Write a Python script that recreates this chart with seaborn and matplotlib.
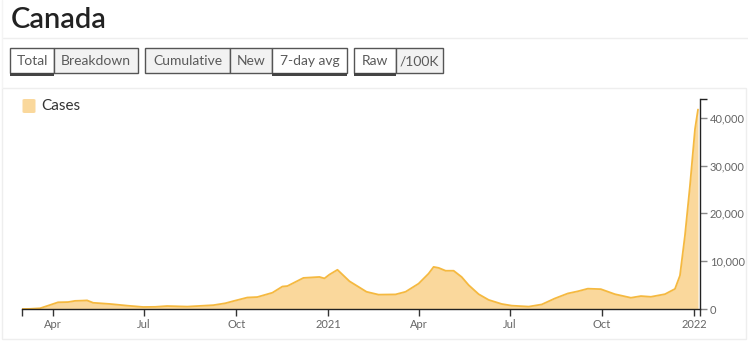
import matplotlib
matplotlib.use("Agg")
import matplotlib.pyplot as plt
import matplotlib.dates as mdates
from matplotlib.patches import Rectangle, FancyBboxPatch
from matplotlib.lines import Line2D
import matplotlib.ticker as mticker
import seaborn as sns
import pandas as pd

# ---- data (7-day avg new cases, Canada) ----
dates = [
    "2020-03-01", "2020-03-09", "2020-03-19", "2020-03-27", "2020-04-06", "2020-04-16",
    "2020-04-23", "2020-04-30", "2020-05-05", "2020-05-11", "2020-05-28", "2020-06-14",
    "2020-06-30", "2020-07-12", "2020-07-24", "2020-08-13", "2020-09-08", "2020-09-20",
    "2020-09-28", "2020-10-12", "2020-10-22", "2020-11-06", "2020-11-16", "2020-11-21",
    "2020-12-07", "2020-12-23", "2020-12-28", "2021-01-02", "2021-01-10", "2021-01-22",
    "2021-02-08", "2021-02-20", "2021-03-09", "2021-03-19", "2021-04-01", "2021-04-11",
    "2021-04-16", "2021-04-21", "2021-04-28", "2021-05-06", "2021-05-14", "2021-05-21",
    "2021-05-31", "2021-06-10", "2021-06-23", "2021-07-03", "2021-07-20", "2021-08-02",
    "2021-08-15", "2021-08-28", "2021-09-07", "2021-09-17", "2021-09-30", "2021-10-14",
    "2021-10-30", "2021-11-09", "2021-11-19", "2021-12-03", "2021-12-13", "2021-12-18",
    "2021-12-23", "2021-12-28", "2022-01-02", "2022-01-05",
]
cases = [
    0, 30, 150, 700, 1400, 1450,
    1700, 1750, 1800, 1300, 1050, 700,
    420, 450, 620, 500, 800, 1200,
    1650, 2400, 2500, 3400, 4700, 4800,
    6500, 6700, 6400, 7200, 8200, 5800,
    3600, 3000, 3050, 3600, 5300, 7400,
    8800, 8600, 8000, 8000, 6700, 5000,
    3100, 1900, 1050, 700, 500, 950,
    2200, 3250, 3700, 4250, 4150, 3100,
    2350, 2700, 2550, 3100, 4200, 7000,
    15400, 25800, 37600, 41700,
]
series_name = "Cases"
title = "Canada"
button_groups = [
    [("Total", True), ("Breakdown", False)],
    [("Cumulative", False), ("New", False), ("7-day avg", True)],
    [("Raw", True), ("/100K", False)],
]
y_ticks = [0, 10000, 20000, 30000, 40000]
x_tick_dates = ["2020-04-01", "2020-07-01", "2020-10-01", "2021-01-01",
                "2021-04-01", "2021-07-01", "2021-10-01", "2022-01-01"]
x_tick_labels = ["Apr", "Jul", "Oct", "2021", "Apr", "Jul", "Oct", "2022"]

df = pd.DataFrame({"date": pd.to_datetime(dates), "cases": cases})

FILL = "#fad89c"
LINE = "#f5b940"
W, H = 748, 350

sns.set_theme(style="white")
plt.rcParams["font.family"] = ["Lato", "DejaVu Sans"]

fig = plt.figure(figsize=(W / 100, H / 100), dpi=100)
fig.patch.set_facecolor("white")

def fx(x):
    return x / W

def fy(y):
    return 1 - y / H

def rect(x0, y0, x1, y1, **kw):
    fig.patches.append(Rectangle((fx(x0), fy(y1)), (x1 - x0) / W, (y1 - y0) / H,
                                 transform=fig.transFigure, **kw))

def hline(x0, x1, y, **kw):
    fig.lines.append(Line2D([fx(x0), fx(x1)], [fy(y), fy(y)], transform=fig.transFigure, **kw))

def vline(x, y0, y1, **kw):
    fig.lines.append(Line2D([fx(x), fx(x)], [fy(y0), fy(y1)], transform=fig.transFigure, **kw))

# ---- header ----
fig.text(fx(11), fy(20), title, fontsize=21, fontweight="semibold", color="#222222",
         va="center", ha="left")
hline(3, 748, 38, color="#eeeeee", lw=1)
vline(2, 0, 88, color="#f4f4f4", lw=1)
# chart frame
rect(2, 88, 746, 339, fill=False, edgecolor="#eeeeee", lw=1)

# buttons
widths = {"Total": 44, "Breakdown": 84, "Cumulative": 85, "New": 42, "7-day avg": 75,
          "Raw": 42, "/100K": 47}
x = 10
for group in button_groups:
    for label, sel in group:
        w = widths[label]
        rect(x, 48, x + w, 73, facecolor="white" if sel else "#f2f2f2",
             edgecolor="#555555", lw=1)
        if sel:
            rect(x, 73, x + w, 76, facecolor="#444444", edgecolor="none")
        fig.text(fx(x + w / 2), fy(61), label, fontsize=10, color="#5a5a5a",
                 ha="center", va="center")
        x += w
    x += 7

# ---- chart ----
ax = fig.add_axes([fx(22), fy(309), (700 - 22) / W, (309 - 99.5) / H])
ax.set_facecolor("none")
ax.fill_between(df["date"], 0, df["cases"], color=FILL, lw=0)
sns.lineplot(data=df, x="date", y="cases", color=LINE, lw=1.3, ax=ax)

xmin = pd.Timestamp("2020-03-01")
xmax = pd.Timestamp("2022-01-07")
ax.set_xlim(xmin, xmax)
ax.set_ylim(0, 43800)

ax.set_xticks(pd.to_datetime(x_tick_dates))
ax.set_xticklabels(x_tick_labels)
ax.set_xticks([mdates.date2num(xmin), mdates.date2num(xmax)], minor=True)
ax.yaxis.tick_right()
ax.set_yticks(y_ticks)
ax.yaxis.set_major_formatter(mticker.FuncFormatter(lambda v, p: f"{int(v):,}"))
ax.set_yticks([43800], minor=True)

for s in ["top", "left"]:
    ax.spines[s].set_visible(False)
for s in ["right", "bottom"]:
    ax.spines[s].set_color("#222222")
    ax.spines[s].set_linewidth(1)

ax.tick_params(axis="x", which="both", length=5, width=1, color="#333333",
               labelsize=8, labelcolor="#666666", pad=2, bottom=True)
ax.tick_params(axis="y", which="major", length=5, width=1, color="#888888",
               labelsize=8, labelcolor="#666666", pad=2, right=True, left=False)
ax.tick_params(axis="y", which="minor", length=5, width=1, color="#222222",
               right=True, left=False)
ax.set_xlabel("")
ax.set_ylabel("")
ax.grid(False)

# legend
fig.patches.append(FancyBboxPatch((fx(22.5), fy(113)), 13 / W, 14 / H,
                                  boxstyle="round,pad=0,rounding_size=0.003",
                                  transform=fig.transFigure, facecolor=FILL,
                                  edgecolor="none"))
fig.text(fx(41), fy(106), series_name, fontsize=11, color="#333333", ha="left", va="center")

fig.savefig("out.png", dpi=100)
